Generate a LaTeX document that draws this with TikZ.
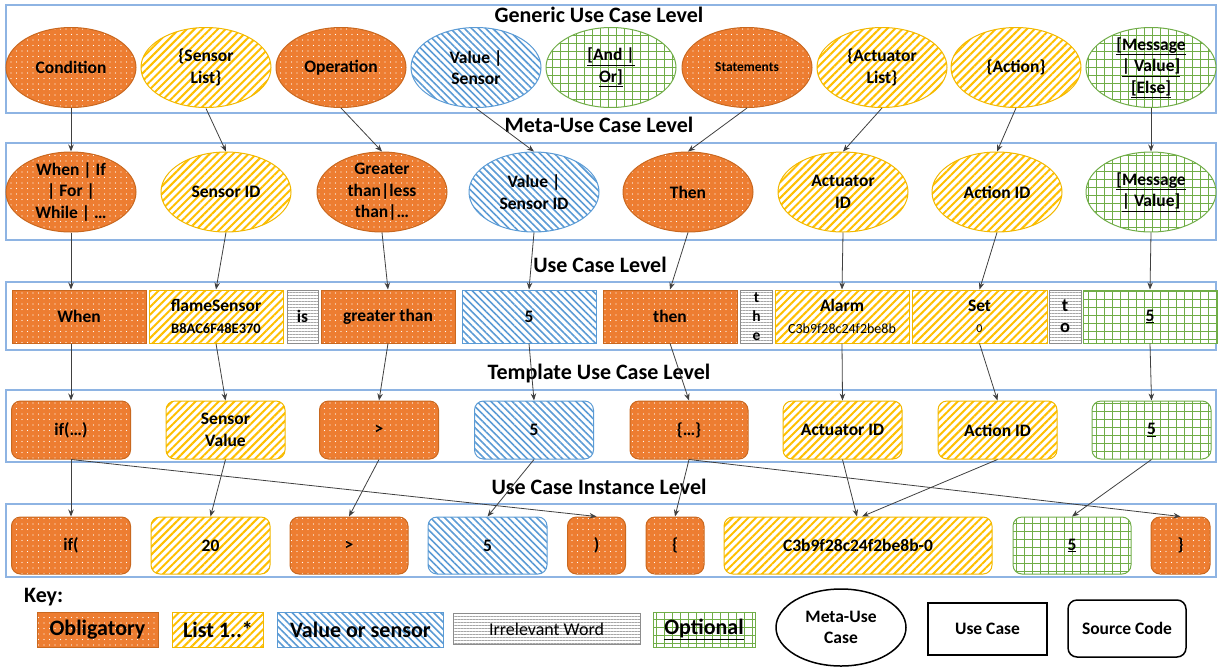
\documentclass[tikz,border=0pt]{standalone}
\usepackage{fontspec}
\setmainfont{Carlito}
\usetikzlibrary{shapes.geometric,patterns.meta,arrows.meta}

\definecolor{orangeF}{HTML}{ED7D31}
\definecolor{orangeD}{HTML}{C9681F}
\definecolor{yellowF}{HTML}{FFC000}
\definecolor{yellowD}{HTML}{F2B800}
\definecolor{blueF}{HTML}{5B9BD5}
\definecolor{blueD}{HTML}{5B9BD5}
\definecolor{greenF}{HTML}{70AD47}
\definecolor{greenD}{HTML}{70AD47}
\definecolor{grayF}{HTML}{A6A6A6}
\definecolor{grayD}{HTML}{8C8C8C}
\definecolor{lvblue}{HTML}{8EB4E3}
\definecolor{linkC}{HTML}{404040}

\newcommand{\txtsz}[2]{\fontsize{#1}{#2}\selectfont}

\begin{document}
\begin{tikzpicture}[
    x=1pt, y=-1pt,
    cell/.style={
      align=center,
      inner sep=0pt,
      line width=1pt,
      font=\txtsz{17.5}{21.5}\bfseries,
    },
    oblig/.style={cell, draw=orangeD, preaction={fill=orangeF},
      pattern={Dots[radius=0.6pt, distance=5.5pt]}, pattern color=white},
    listed/.style={cell, draw=yellowD, preaction={fill=white},
      pattern={Lines[angle=45, distance=5.5pt, line width=2pt]}, pattern color=yellowF},
    valued/.style={cell, draw=blueD, preaction={fill=white},
      pattern={Lines[angle=-45, distance=5pt, line width=1.6pt]}, pattern color=blueF},
    irrel/.style={cell, draw=grayD, preaction={fill=white},
      pattern={Lines[angle=0, distance=3pt, line width=0.6pt]}, pattern color=grayF},
    optnl/.style={cell, draw=greenD, preaction={fill=white},
      pattern={Hatch[angle=0, distance=8pt, line width=0.8pt]}, pattern color=greenF},
    metacase/.style={ellipse, minimum width=130pt, minimum height=80pt, inner sep=-6pt},
    usecase/.style={rectangle, minimum height=53pt},
    srccode/.style={rectangle, rounded corners=9pt, minimum height=58pt},
    levelbox/.style={draw=lvblue, line width=1.5pt, minimum width=1210pt, inner sep=0pt},
    leveltitle/.style={anchor=base, inner sep=0pt, font=\txtsz{22}{26}\bfseries},
    keybox/.style={rectangle, minimum height=35pt, font=\txtsz{22}{26}\bfseries},
    keyshape/.style={cell, draw=black, line width=1.5pt, fill=white},
    link/.style={draw=linkC, line width=0.8pt, -{Stealth[length=7pt, width=5.5pt]}},
  ]
  \useasboundingbox (0,0) rectangle (1220,667);

  % level frames and titles
  \node[levelbox, minimum height=108pt] (lvGeneric) at (611,59) {};
  \node[levelbox, minimum height=97pt] (lvMeta) at (611,191.5) {};
  \node[levelbox, minimum height=68pt] (lvUse) at (611,316) {};
  \node[levelbox, minimum height=72pt] (lvTemplate) at (611,426) {};
  \node[levelbox, minimum height=73pt] (lvInstance) at (611,540.5) {};

  \node[leveltitle] (ttlGeneric) at (599,22) {Generic Use Case Level};
  \node[leveltitle] (ttlMeta) at (599,132) {Meta-Use Case Level};
  \node[leveltitle] (ttlUse) at (600,272) {Use Case Level};
  \node[leveltitle] (ttlTemplate) at (599,379) {Template Use Case Level};
  \node[leveltitle] (ttlInstance) at (599,494) {Use Case Instance Level};

  % generic use case level
  \node[oblig, metacase] (gCond) at (71,67.5) {Condition};
  \node[listed, metacase] (gSens) at (206,67.5) {\{Sensor\\List\}};
  \node[oblig, metacase] (gOper) at (341,67.5) {Operation};
  \node[valued, metacase] (gVal) at (476,67.5) {Value |\\Sensor};
  \node[optnl, metacase] (gAnd) at (611,67.5) {\underline{[And |}\\\underline{Or]}};
  \node[oblig, metacase, font=\txtsz{13.5}{16}\bfseries] (gStat) at (747,67.5) {Statements};
  \node[listed, metacase] (gAct) at (882,67.5) {\{Actuator\\List\}};
  \node[listed, metacase] (gActn) at (1016,67.5) {\{Action\}};
  \node[optnl, metacase] (gMsg) at (1151,67.5) {\underline{[Message}\\\underline{| Value]}\\\underline{[Else]}};

  % meta-use case level
  \node[oblig, metacase] (mWhen) at (71,192) {When | If\\| For |\\While | …};
  \node[listed, metacase] (mSens) at (226,192) {Sensor ID};
  \node[oblig, metacase] (mGreat) at (382,192) {Greater\\than|less\\than|…};
  \node[valued, metacase] (mVal) at (534,192) {Value |\\Sensor ID};
  \node[oblig, metacase] (mThen) at (688,192) {Then};
  \node[listed, metacase] (mAct) at (843,192) {Actuator\\ID};
  \node[listed, metacase] (mActn) at (997,192) {Action ID};
  \node[optnl, metacase] (mMsg) at (1151,192) {\underline{[Message}\\\underline{| Value]}};

  % use case level
  \node[oblig, usecase, minimum width=134pt] (uWhen) at (79,316.5) {When};
  \node[listed, usecase, minimum width=134pt] (uFlame) at (216,316.5)
    {flameSensor\\{\txtsz{14.5}{18}\bfseries B8AC6F48E370}};
  \node[irrel, usecase, minimum width=31pt] (uIs) at (302.5,316.5) {is};
  \node[oblig, usecase, minimum width=134pt] (uGreat) at (388,316.5) {greater than};
  \node[valued, usecase, minimum width=134pt] (uFive) at (529,316.5) {5};
  \node[oblig, usecase, minimum width=134pt] (uThen) at (670,316.5) {then};
  \node[irrel, usecase, minimum width=32pt, font=\txtsz{15.5}{19}\bfseries] (uThe) at (756.5,316.5) {t\\h\\e};
  \node[listed, usecase, minimum width=134pt] (uAlarm) at (842,316.5)
    {Alarm\\{\txtsz{14}{18}\mdseries C3b9f28c24f2be8b}};
  \node[listed, usecase, minimum width=135pt] (uSet) at (979.5,316.5)
    {Set\\{\txtsz{12}{17}\mdseries 0}};
  \node[irrel, usecase, minimum width=32pt, font=\txtsz{18.5}{21}\bfseries] (uTo) at (1065,316.5) {t\\o};
  \node[optnl, usecase, minimum width=134pt] (uMsg) at (1150,316.5) {\underline{5}};

  % template use case level
  \node[oblig, srccode, minimum width=119pt] (tIf) at (71,430) {if(…)};
  \node[listed, srccode, minimum width=119pt] (tSens) at (225.5,430) {Sensor\\Value};
  \node[oblig, srccode, minimum width=119pt] (tGt) at (379,430) {>};
  \node[valued, srccode, minimum width=119pt] (tFive) at (534,430) {5};
  \node[oblig, srccode, minimum width=118pt] (tBrace) at (689,430) {\{…\}};
  \node[listed, srccode, minimum width=119pt] (tAct) at (842.5,430) {Actuator ID};
  \node[listed, srccode, minimum width=119pt] (tActn) at (997.5,430) {Action ID};
  \node[optnl, srccode, minimum width=119pt] (tMsg) at (1151.5,430) {\underline{5}};

  % use case instance level
  \node[oblig, srccode, minimum width=119pt, minimum height=57pt] (iIf) at (71,545.5) {if(};
  \node[listed, srccode, minimum width=119pt, minimum height=57pt] (iTwenty) at (210.5,545.5) {20};
  \node[oblig, srccode, minimum width=118pt, minimum height=57pt] (iGt) at (349,545.5) {>};
  \node[valued, srccode, minimum width=119pt, minimum height=57pt] (iFive) at (487.5,545.5) {5};
  \node[oblig, srccode, minimum width=58pt, minimum height=57pt] (iClose) at (596.5,545.5) {)};
  \node[oblig, srccode, minimum width=58pt, minimum height=57pt] (iOpen) at (675,545.5) {\{};
  \node[listed, srccode, minimum width=268pt, minimum height=57pt] (iId) at (858,545.5) {C3b9f28c24f2be8b-0};
  \node[optnl, srccode, minimum width=118pt, minimum height=57pt] (iMsg) at (1072,545.5) {\underline{5}};
  \node[oblig, srccode, minimum width=59pt, minimum height=57pt] (iEnd) at (1180.5,545.5) {\}};

  % key
  \node[anchor=base west, inner sep=0pt, font=\txtsz{22}{26}\bfseries] (kTitle) at (24,602) {Key:};
  \node[oblig, keybox, minimum width=121pt] (kOblig) at (97.5,629.5) {Obligatory};
  \node[listed, keybox, minimum width=91pt] (kList) at (218,629.5) {List 1..*};
  \node[valued, keybox, minimum width=166pt] (kVal) at (360.5,629.5) {Value or sensor};
  \node[irrel, keybox, minimum width=187pt, minimum height=31pt, font=\txtsz{18}{21}\mdseries] (kIrr) at (546.5,629) {Irrelevant Word};
  \node[optnl, keybox, minimum width=102pt] (kOpt) at (704,629.5) {\underline{Optional}};
  \node[keyshape, ellipse, minimum width=130pt, minimum height=77pt] (kMeta) at (841,627.5) {Meta-Use\\Case};
  \node[keyshape, rectangle, minimum width=119pt, minimum height=52pt] (kUse) at (987.5,629) {Use Case};
  \node[keyshape, srccode, minimum width=118pt, minimum height=57pt] (kSrc) at (1127,628.5) {Source Code};

  % generic -> meta-use case
  \draw[link] (gCond.south) -- (mWhen.north);
  \draw[link] (gSens.south) -- (mSens.north);
  \draw[link] (gOper.south) -- (mGreat.north);
  \draw[link] (gVal.south) -- (mVal.north);
  \draw[link] (gStat.south) -- (mThen.north);
  \draw[link] (gAct.south) -- (mAct.north);
  \draw[link] (gActn.south) -- (mActn.north);
  \draw[link] (gMsg.south) -- (mMsg.north);

  % meta-use case -> use case
  \draw[link] (mWhen.south) -- (mWhen.south |- uWhen.north);
  \draw[link] (mSens.south) -- (uFlame.north);
  \draw[link] (mGreat.south) -- (uGreat.north);
  \draw[link] (mVal.south) -- (uFive.north);
  \draw[link] (mThen.south) -- (uThen.north);
  \draw[link] (mAct.south) -- (uAlarm.north);
  \draw[link] (mActn.south) -- (uSet.north);
  \draw[link] (mMsg.south) -- (uMsg.north);

  % use case -> template
  \draw[link] (mWhen.south |- uWhen.south) -- (tIf.north);
  \draw[link] (uFlame.south) -- (tSens.north);
  \draw[link] (uGreat.south) -- (tGt.north);
  \draw[link] (uFive.south) -- (tFive.north);
  \draw[link] (uThen.south) -- (tBrace.north);
  \draw[link] (uAlarm.south) -- (tAct.north);
  \draw[link] (uSet.south) -- (tActn.north);
  \draw[link] (uMsg.south) -- (tMsg.north);

  % template -> instance
  \draw[link] (tIf.south) -- (iIf.north);
  \draw[link] (tIf.south) -- (iClose.north);
  \draw[link] (tSens.south) -- (iTwenty.north);
  \draw[link] (tGt.south) -- (iGt.north);
  \draw[link] (tFive.south) -- (iFive.north);
  \draw[link] (tBrace.south) -- (iOpen.north);
  \draw[link] (tBrace.south) -- (iEnd.north);
  \draw[link] (tAct.south) -- ([xshift=-1pt]iId.north);
  \draw[link] (tActn.south) -- ([xshift=4pt]iId.north);
  \draw[link] (tMsg.south) -- (iMsg.north);
\end{tikzpicture}
\end{document}
